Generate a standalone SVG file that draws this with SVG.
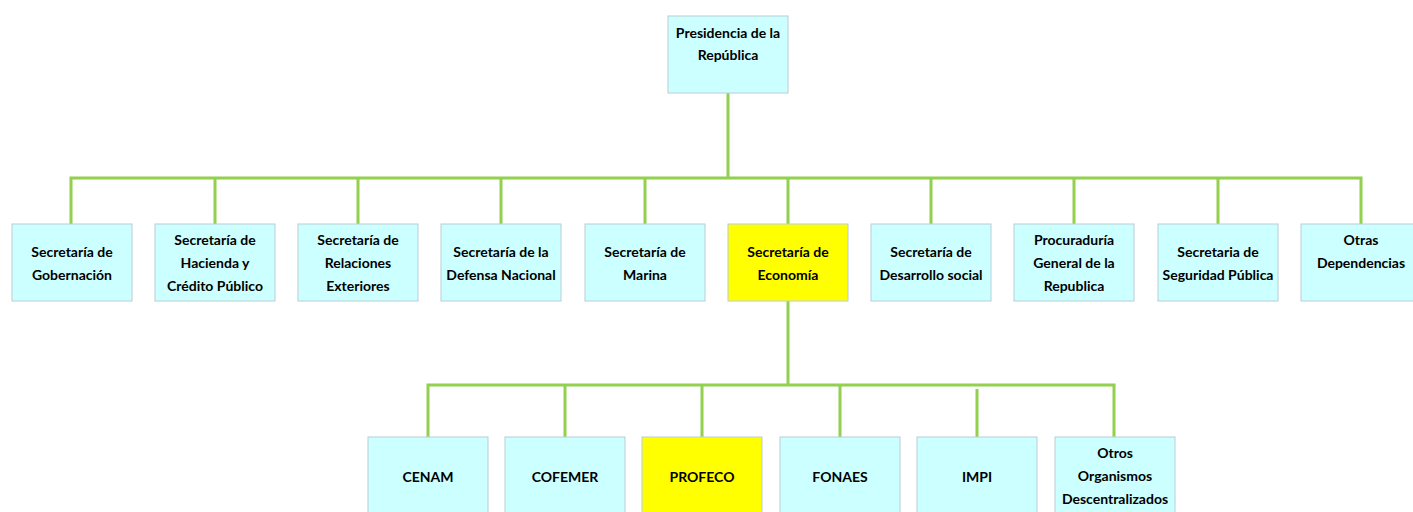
<svg xmlns="http://www.w3.org/2000/svg" width="1413" height="512" viewBox="0 0 1413 512">
<style>
.box{fill:#CCFFFF;stroke:#B9CDD6;stroke-width:1}
.hl{fill:#FFFF00;stroke:#B9CDD6;stroke-width:1}
.t{font-family:Lato,"Liberation Sans",sans-serif;font-weight:bold;font-size:14px;fill:#000;text-anchor:middle}
.c{fill:none;stroke:#92D050;stroke-width:3}
</style>
<rect width="1413" height="512" fill="#fff"/>
<g id="connectors">
<path class="c" d="M728,93V178M71,224V178H1361V224M215,178V224M358,178V224M501,178V224M645,178V224M788,178V224M931,178V224M1074,178V224M1218,178V224"/>
<path class="c" d="M788,301V385M428,437V385H1114V437M565,385V437M702,385V437M840,385V437M977,389V437"/>
</g>
<g id="n0"><rect class="box" x="668" y="16" width="120" height="77"/><text class="t" x="728" y="38">Presidencia de la<tspan x="728" dy="22">República</tspan></text></g>
<g id="n1"><rect class="box" x="12" y="224" width="120" height="77"/><text class="t" x="72" y="257">Secretaría de<tspan x="72" dy="23">Gobernación</tspan></text></g>
<g id="n2"><rect class="box" x="155" y="224" width="120" height="77"/><text class="t" x="215" y="245">Secretaría de<tspan x="215" dy="23">Hacienda y</tspan><tspan x="215" dy="23">Crédito Público</tspan></text></g>
<g id="n3"><rect class="box" x="298" y="224" width="120" height="77"/><text class="t" x="358" y="245">Secretaría de<tspan x="358" dy="23">Relaciones</tspan><tspan x="358" dy="23">Exteriores</tspan></text></g>
<g id="n4"><rect class="box" x="441" y="224" width="120" height="77"/><text class="t" x="501" y="257">Secretaría de la<tspan x="501" dy="23">Defensa Nacional</tspan></text></g>
<g id="n5"><rect class="box" x="585" y="224" width="120" height="77"/><text class="t" x="645" y="257">Secretaría de<tspan x="645" dy="23">Marina</tspan></text></g>
<g id="n6"><rect class="hl" x="728" y="224" width="120" height="77"/><text class="t" x="788" y="257">Secretaría de<tspan x="788" dy="23">Economía</tspan></text></g>
<g id="n7"><rect class="box" x="871" y="224" width="120" height="77"/><text class="t" x="931" y="257">Secretaría de<tspan x="931" dy="23">Desarrollo social</tspan></text></g>
<g id="n8"><rect class="box" x="1014" y="224" width="120" height="77"/><text class="t" x="1074" y="245">Procuraduría<tspan x="1074" dy="23">General de la</tspan><tspan x="1074" dy="23">Republica</tspan></text></g>
<g id="n9"><rect class="box" x="1158" y="224" width="120" height="77"/><text class="t" x="1218" y="257">Secretaria de<tspan x="1218" dy="23">Seguridad Pública</tspan></text></g>
<g id="n10"><rect class="box" x="1301" y="224" width="120" height="77"/><text class="t" x="1361" y="245">Otras<tspan x="1361" dy="23">Dependencias</tspan></text></g>
<g id="n11"><rect class="box" x="368" y="437" width="120" height="80"/><text class="t" x="428" y="482">CENAM</text></g>
<g id="n12"><rect class="box" x="505" y="437" width="120" height="80"/><text class="t" x="565" y="482">COFEMER</text></g>
<g id="n13"><rect class="hl" x="642" y="437" width="120" height="80"/><text class="t" x="702" y="482">PROFECO</text></g>
<g id="n14"><rect class="box" x="780" y="437" width="120" height="80"/><text class="t" x="840" y="482">FONAES</text></g>
<g id="n15"><rect class="box" x="917" y="437" width="120" height="80"/><text class="t" x="977" y="482">IMPI</text></g>
<g id="n16"><rect class="box" x="1055" y="437" width="120" height="80"/><text class="t" x="1115" y="458">Otros<tspan x="1115" dy="23">Organismos</tspan><tspan x="1115" dy="23">Descentralizados</tspan></text></g>
</svg>
